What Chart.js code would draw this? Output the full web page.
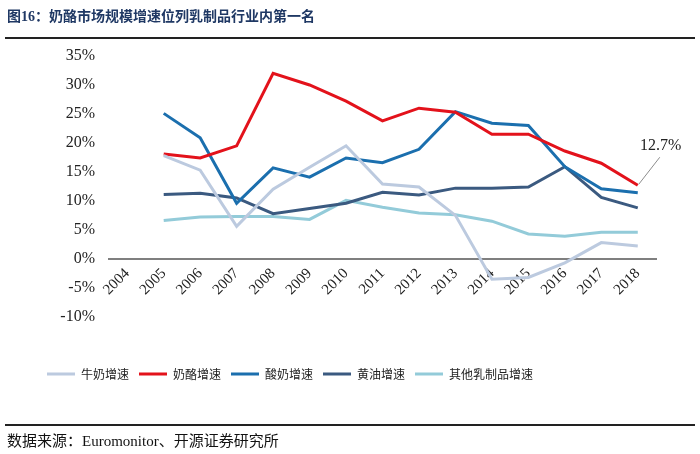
<!DOCTYPE html>
<html>
<head>
<meta charset="utf-8">
<script src="https://cdn.jsdelivr.net/npm/chart.js@4.4.1/dist/chart.umd.min.js"></script>
<style>
  body { margin: 0; background: #fff; }
  #wrap { position: relative; width: 700px; height: 454px; }
  #chart { position: absolute; left: 0; top: 0; }
  .title {
    position: absolute; left: 7px; top: 5px;
    font: bold 14px "Liberation Serif", "Noto Sans CJK SC", serif; color: #1f3864;
  }
  .topline { position: absolute; left: 5px; right: 5px; top: 37px; height: 2px; background: #222; }
  .botline { position: absolute; left: 5px; right: 5px; top: 424px; height: 2px; background: #222; }
  .source {
    position: absolute; left: 7px; top: 429px;
    font: 15px "Liberation Serif", "Noto Sans CJK SC", serif; color: #111;
  }
</style>
</head>
<body>
<div id="wrap">
  <canvas id="chart" width="700" height="454"></canvas>
  <div class="title">图16：奶酪市场规模增速位列乳制品行业内第一名</div>
  <div class="topline"></div>
  <div class="botline"></div>
  <div class="source">数据来源：Euromonitor、开源证券研究所</div>
</div>
<script>
// 年份
const years = ['2004', '2005', '2006', '2007', '2008', '2009', '2010', '2011',
               '2012', '2013', '2014', '2015', '2016', '2017', '2018'];

// 各品类增速 (%)
const niunai = [null, 17.8, 15.3, 5.6, 12.0, 15.8, 19.5, 12.9, 12.4, 7.5, -3.5, -3.2, -0.7, 2.8, 2.2];
const nailao = [null, 18.1, 17.4, 19.5, 32.0, 30.0, 27.2, 23.8, 26.0, 25.3, 21.5, 21.5, 18.6, 16.5, 12.7];
const suannai = [null, 25.1, 20.9, 9.6, 15.7, 14.1, 17.4, 16.6, 18.9, 25.4, 23.4, 23.0, 15.9, 12.1, 11.4];
const huangyou = [null, 11.1, 11.3, 10.5, 7.8, 8.7, 9.6, 11.5, 11.0, 12.2, 12.2, 12.4, 15.9, 10.6, 8.8];
const qita = [null, 6.6, 7.2, 7.3, 7.3, 6.8, 10.1, 8.9, 7.9, 7.6, 6.5, 4.3, 3.9, 4.6, 4.6];

const yTicks = [-10, -5, 0, 5, 10, 15, 20, 25, 30, 35];
const lastLabel = '12.7%';

function serie(label, data, color) {
  return {
    label: label,
    data: data,
    borderColor: color,
    backgroundColor: color,
    borderWidth: 3,
    pointRadius: 0,
    tension: 0,
    spanGaps: false
  };
}

// 标注 12.7%
const etiqueta = {
  id: 'etiqueta',
  afterDatasetsDraw(chart) {
    const meta = chart.getDatasetMeta(1);
    const pt = meta.data[meta.data.length - 1];
    const ctx = chart.ctx;
    ctx.save();
    ctx.strokeStyle = '#8c8c8c';
    ctx.lineWidth = 1;
    ctx.beginPath();
    ctx.moveTo(pt.x + 1, pt.y - 1);
    ctx.lineTo(pt.x + 22, pt.y - 28);
    ctx.stroke();
    ctx.fillStyle = '#222';
    ctx.font = '16px "Liberation Serif", serif';
    ctx.textAlign = 'center';
    ctx.textBaseline = 'middle';
    ctx.fillText(lastLabel, pt.x + 23, pt.y - 39);
    ctx.restore();
  }
};

const ctx = document.getElementById('chart').getContext('2d');
const myChart = new Chart(ctx, {
  type: 'line',
  data: {
    labels: years,
    datasets: [
      serie('牛奶增速', niunai, '#bccadf'),
      serie('奶酪增速', nailao, '#e3121b'),
      serie('酸奶增速', suannai, '#1b6fae'),
      serie('黄油增速', huangyou, '#3b5a80'),
      serie('其他乳制品增速', qita, '#93cbd9')
    ]
  },
  options: {
    responsive: false,
    animation: false,
    layout: {
      padding: { left: 37, right: 44, top: 56, bottom: 64 }
    },
    scales: {
      x: {
        type: 'category',
        position: { y: 0 },
        offset: true,
        grid: { display: false, drawTicks: false },
        border: { display: true, color: '#7f7f7f', width: 2 },
        ticks: {
          autoSkip: false,
          maxRotation: 45,
          minRotation: 45,
          padding: 6,
          color: '#222',
          font: { family: '"Liberation Serif", serif', size: 15 }
        }
      },
      y: {
        min: -10,
        max: 35,
        afterFit(scale) { scale.width = 72; },
        afterBuildTicks(scale) { scale.ticks = yTicks.map(v => ({ value: v })); },
        grid: { display: false, drawTicks: false },
        border: { display: false },
        ticks: {
          padding: 14,
          color: '#222',
          font: { family: '"Liberation Serif", serif', size: 16 },
          callback: v => v + '%'
        }
      }
    },
    plugins: {
      legend: {
        display: true,
        position: 'bottom',
        align: 'start',
        title: {
          display: true,
          text: '',
          font: { size: 1 },
          padding: { top: 40, bottom: 0 }
        },
        labels: {
          usePointStyle: true,
          pointStyle: 'line',
          pointStyleWidth: 28,
          padding: 10,
          color: '#222',
          font: { family: '"Noto Sans CJK SC", sans-serif', size: 12 }
        }
      },
      tooltip: { enabled: false }
    }
  },
  plugins: [etiqueta]
});
</script>
</body>
</html>
